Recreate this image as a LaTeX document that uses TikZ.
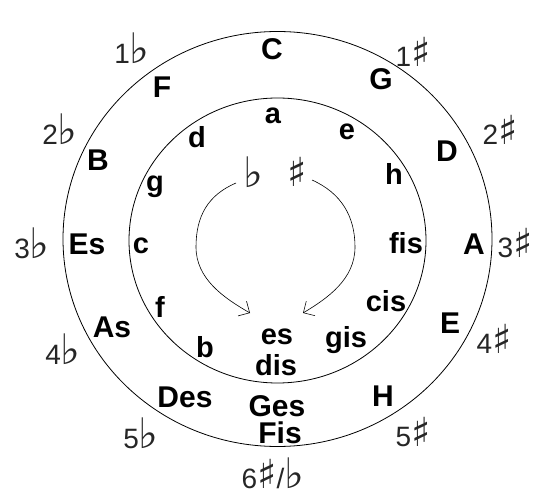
\documentclass[tikz,border=0pt]{standalone}
\usepackage{fontspec}
\setmainfont{Liberation Sans}
\newfontfamily\musique{DejaVu Sans}
\usetikzlibrary{arrows.meta}
\newcommand{\bem}{{\fontsize{42}{42}\musique ♭}}
\newcommand{\die}{{\fontsize{40}{40}\musique ♯}}
\tikzset{
  dur/.style={font=\fontsize{30}{30}\selectfont\bfseries, inner sep=0pt},
  moll/.style={font=\fontsize{29}{29}\selectfont\bfseries, inner sep=0pt},
  vorz/.style={font=\fontsize{28}{28}\selectfont, text=black!85, inner sep=0pt},
}
\begin{document}
\begin{tikzpicture}[x=1pt, y=1pt, >={Straight Barb[angle=90:12pt]}, line width=0.8pt]
\useasboundingbox (0,0) rectangle (540,498);

% Paramètres
\def\cx{277.5}
\def\cy{259}

% Cercles
\draw (\cx,\cy) ellipse [x radius=214.5, y radius=207.5];
\draw (\cx,\cy-1.5) ellipse [x radius=148.5, y radius=142.5];

% Tonalités majeures
\node[dur] (C)   at (272,449) {C};
\node[dur] (G)   at (381,419) {G};
\node[dur] (D)   at (447,347) {D};
\node[dur] (A)   at (474,254) {A};
\node[dur] (E)   at (450,175) {E};
\node[dur] (H)   at (383,102) {H};
\node[dur] (Ges) at (277,92)  {Ges};
\node[dur] (Fis) at (280,65)  {Fis};
\node[dur] (Des) at (185,101) {Des};
\node[dur] (As)  at (112,171) {As};
\node[dur] (Es)  at (87,254)  {Es};
\node[dur] (B)   at (98,338)  {B};
\node[dur] (F)   at (162,411) {F};

% Tonalités mineures
\node[moll] (a)   at (273,382) {a};
\node[moll] (e)   at (347,366) {e};
\node[moll] (h)   at (394,324) {h};
\node[moll] (fis) at (406,255) {fis};
\node[moll] (cis) at (386,197) {cis};
\node[moll] (gis) at (346,158) {gis};
\node[moll] (es)  at (277,161) {es};
\node[moll] (dis) at (276,133) {dis};
\node[moll] (b)   at (205,151) {b};
\node[moll] (f)   at (160,191) {f};
\node[moll] (c)   at (141,252) {c};
\node[moll] (g)   at (155,311) {g};
\node[moll] (d)   at (197,361) {d};

% Altérations
\node[vorz] (bemol1) at (132,450) {1\bem};
\node[vorz] (bemol2) at (60,369)  {2\bem};
\node[vorz] (bemol3) at (32,255)  {3\bem};
\node[vorz] (bemol4) at (63,149)  {4\bem};
\node[vorz] (bemol5) at (141,65)  {5\bem};
\node[vorz] (diese6) at (273,25)  {6\die/\bem};
\node[vorz] (diese5) at (413,66)  {5\die};
\node[vorz] (diese4) at (494,159) {4\die};
\node[vorz] (diese3) at (515,255) {3\die};
\node[vorz] (diese2) at (500,368) {2\die};
\node[vorz] (diese1) at (413,446) {1\die};

% Sens de rotation
\node[vorz] (bemol) at (253,326) {\bem};
\node[vorz] (diese) at (297,326) {\die};
\draw[->, line width=0.6pt] (236,315) .. controls (208,303) and (196,282) .. (196,251)
  .. controls (196,219) and (224,200) .. (250,185);
\draw[->, line width=0.6pt] (312,318) .. controls (341,305) and (355,282) .. (355,251)
  .. controls (355,219) and (328,200) .. (303,185);
\end{tikzpicture}
\end{document}
